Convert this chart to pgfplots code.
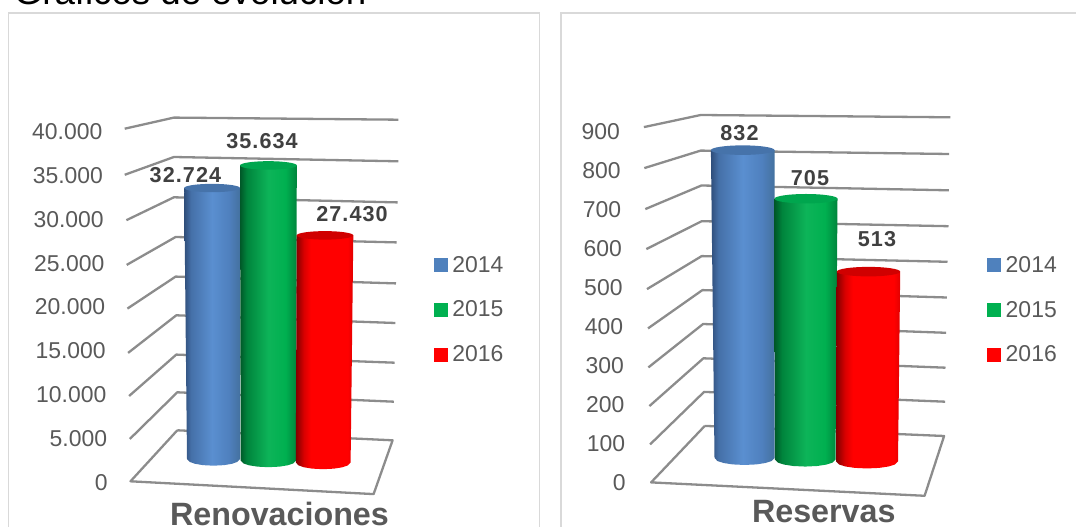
\documentclass[border=0pt]{standalone}
\usepackage{fontspec}
\setmainfont{Liberation Sans}
\newfontfamily\spaced[LetterSpace=5]{Liberation Sans}
\usepackage{pgfplots}
\usepackage{pgfplotstable}
\pgfplotsset{compat=1.18}
\def\px{0.75pt}

\definecolor{txt}{HTML}{595959}
\definecolor{lbl}{HTML}{404040}
\definecolor{gridc}{HTML}{8C8C8C}
\definecolor{framec}{HTML}{D9D9D9}
\definecolor{blue14}{HTML}{4F81BD}
\definecolor{green15}{HTML}{00B050}
\definecolor{red16}{HTML}{FF0000}
\definecolor{capblue}{HTML}{4673AA}
\definecolor{capgreen}{HTML}{00A64E}
\definecolor{capred}{HTML}{D00000}
\definecolor{blueA}{HTML}{2F4E7A}
\definecolor{blueB}{HTML}{4570A8}
\definecolor{blueC}{HTML}{5A8FD0}
\definecolor{blueD}{HTML}{4F80BE}
\definecolor{blueE}{HTML}{44719F}

\pgfdeclarehorizontalshading{cylblue}{100bp}{color(0bp)=(blueA);
  color(25bp)=(blueA); color(31bp)=(blueB); color(50bp)=(blueC); color(65bp)=(blueD); color(75bp)=(blueE); color(100bp)=(blueE)}
\pgfdeclarehorizontalshading{cylgreen}{100bp}{color(0bp)=(green15!50!black);
  color(25bp)=(green15!50!black); color(31bp)=(green15!75!black); color(50bp)=(green15!95!white); color(65bp)=(green15); color(75bp)=(green15!75!black); color(100bp)=(green15!75!black)}
\pgfdeclarehorizontalshading{cylred}{100bp}{color(0bp)=(red16!50!black);
  color(25bp)=(red16!50!black); color(32bp)=(red16!85!black); color(38bp)=(red16); color(70bp)=(red16); color(75bp)=(red16!88!black); color(100bp)=(red16!88!black)}

% ellipse used as the lid of a cylinder
\pgfdeclareplotmark{lid}{\pgfpathellipse{\pgfpointorigin}{\pgfqpoint{\pgfplotmarksize}{0pt}}{\pgfqpoint{0pt}{0.15\pgfplotmarksize}}\pgfusepathqfill}

% outline of a cylinder: top=1 is the lid level, d the depth of the bottom arc
\pgfplotstableread{
t top d
-1 1 0
-1 0 0
-0.9 0 0.436
-0.7 0 0.714
-0.4 0 0.917
0 0 1
0.4 0 0.917
0.7 0 0.714
0.9 0 0.436
1 0 0
1 1 0
}\outline
\pgfplotstableread{
a b
0 0
}\onepoint

% #1 shading #2 lid colour #3 centre top #4 half width top #5 centre bottom #6 half width bottom #7 base #8 value #9 arc depth
\newcommand\cyl[9]{
  \addplot[draw=none, shade, shading=#1, forget plot] table[
    x expr={(#3+#4*\thisrow{t})*\thisrow{top}+(#5+#6*\thisrow{t})*(1-\thisrow{top})},
    y expr={(#8+#7)*\thisrow{top}+(#7-#9*\thisrow{d})*(1-\thisrow{top})}] {\outline} -- cycle;
  \addplot[only marks, mark=lid, mark size={#4*\px}, color=#2, forget plot]
    table[x expr={#3}, y expr={#8+#7}] {\onepoint};
}

\pgfplotsset{
  canvas/.style={
    scale only axis, width=1076*\px, height=527*\px,
    at={(0,0)}, anchor=south west, xmin=0, xmax=1076,
    hide axis, clip=false},
  wall/.style={
    anchor=origin, xmin=0, xmax=10, x={(\px,0)},
    axis line style={draw=none}, xtick=\empty, major tick length=0pt,
    clip=false, ymin=0,
    /pgf/number format/.cd, assume math mode=true, /pgfplots/.cd,
    yticklabel style={anchor=east, inner sep=0pt, font=\fontsize{17.2pt}{20pt}\selectfont, text=txt}},
  bardata/.style={
    draw=none, mark=none, forget plot,
    visualization depends on={\thisrow{dy}\as\dy},
    nodes near coords={\pgfmathprintnumber{\pgfplotspointmeta}},
    point meta=explicit,
    every node near coord/.style={anchor=center, yshift=\dy*\px, text=lbl, inner sep=0pt,
      font=\fontsize{16.2pt}{18pt}\spaced\bfseries}},
  yearlegend/.style={
    legend style={at={#1}, anchor=north west, draw=none, fill=none, inner sep=0pt, outer sep=0pt,
      row sep=16.1pt, font=\fontsize{17.2pt}{20pt}\selectfont, text=txt,
      cells={anchor=west}},
    legend image code/.code={\fill[##1, draw=none] (0pt,-5.25pt) rectangle (10.5pt,5.25pt); \path (11.7pt,0pt);},
    legend cell align=left},
}

\begin{document}
\begin{tikzpicture}
\clip (0,0) rectangle (1076*\px,527*\px);

% frames, floors and grid lines, in pixels of the picture
\begin{axis}[canvas, ymin=0, ymax=527, y dir=reverse]
\addplot[framec, line width=1.7*\px] coordinates {(8.6,540) (8.6,12.8) (539.5,12.8) (539.5,540)};
\addplot[framec, line width=1.7*\px] coordinates {(560.8,540) (560.8,12.8) (1090,12.8)};
\foreach \a/\b/\c/\d/\e/\f in {
  124.7/128.7/173.9/117.6/398.4/119.7, 124.7/174.8/173.9/157.0/398.4/161.3,
  126.4/220.2/173.9/197.3/397.7/202.4, 126.7/264.9/175.6/237.0/396.7/242.4,
  127.4/308.6/175.6/276.6/396/283.4, 128.1/352.9/176.3/315.3/395.3/323,
  129.1/396/176.3/354.6/394.6/362.7, 129.8/439/177.3/392.3/393.9/401.7,
  643.9/127.1/700.7/115/950.3/117.3, 644.3/168.1/700.7/150.6/949.2/154,
  645.3/209.1/701.4/185.5/948.9/190.3, 646.3/249.1/701.7/221.2/948.5/226.2,
  647/289.1/701.7/256.1/947.5/261.8, 648/328.4/702.4/290.1/946.8/297.5,
  648.4/367.4/703.1/324/946.2/332.8, 649.4/406.1/703.4/358.3/945.5/367.7,
  650.1/444.4/704.1/391.9/945.1/401.7} {
  \edef\tmp{\noexpand\addplot[gridc, line width=2.3*\px, line join=round] coordinates {(\a,\b) (\c,\d) (\e,\f)};}
  \tmp
}
\addplot[gridc, line width=2.3*\px, line join=round] coordinates {(177.3,430.3) (130.5,481.3) (373.6,494.1) (392.6,440.3) (177.3,430.3)};
\addplot[gridc, line width=2.3*\px, line join=round] coordinates {(704.8,425.9) (651.1,482.4) (924.6,495.8) (944.1,436) (704.8,425.9)};
\node[anchor=base west, inner sep=0pt, font=\fontsize{27.5pt}{30pt}\selectfont] at (axis cs:13.5,4.5) {Gráficos de evolución};
\node[anchor=base, inner sep=0pt, font=\fontsize{24.2pt}{28pt}\selectfont\bfseries, text=txt] at (axis cs:279.5,526) {Renovaciones};
\node[anchor=base, inner sep=0pt, font=\fontsize{24.2pt}{28pt}\selectfont\bfseries, text=txt] at (axis cs:823.8,522.5) {Reservas};
\end{axis}

% value axes, leaning with the front edge of the wall
\begin{axis}[wall, at={(108*\px,44.3*\px)}, y={(-5.4*\px/40,351.3*\px/40)},
  ymax=40, ytick={0,5,...,40},
  yticklabels={0,5.000,10.000,15.000,20.000,25.000,30.000,35.000,40.000}]
\addplot[draw=none, forget plot] coordinates {(0,0)};
\end{axis}
\begin{axis}[wall, at={(626*\px,44*\px)}, y={(-5.8*\px/900,351.5*\px/900)},
  ymax=900, ytick={0,100,...,900}]
\addplot[draw=none, forget plot] coordinates {(0,0)};
\end{axis}

% Renovaciones
\begin{axis}[canvas, ymin=-8091.8, ymax=55555.6, yearlegend={(axis cs:433.9,24940)},
  /pgf/number format/.cd, 1000 sep={.}, assume math mode=true]
\cyl{cylblue}{capblue}{212.1}{27.9}{213.5}{26.5}{121}{32724}{809}
\cyl{cylgreen}{capgreen}{268.4}{28.4}{268.4}{27.7}{-60}{35634}{809}
\cyl{cylred}{capred}{325}{28.3}{323.2}{27.4}{-302}{27430}{809}
\addplot[bardata] table[meta=v] {
x y v dy
185.4 32845 32724 12.5
262 35574 35634 24.3
352 27128 27430 21.4
};
\addlegendimage{fill=blue14} \addlegendentry{2014}
\addlegendimage{fill=green15} \addlegendentry{2015}
\addlegendimage{fill=red16} \addlegendentry{2016}
\end{axis}

% Reservas
\begin{axis}[canvas, ymin=-181.1, ymax=1243.2, yearlegend={(axis cs:987.2,558)},
  /pgf/number format/.cd, 1000 sep={.}, assume math mode=true]
\cyl{cylblue}{capblue}{742.7}{31.8}{744.5}{30}{5.4}{832}{18.9}
\cyl{cylgreen}{capgreen}{806}{31.5}{805.2}{30.3}{1.1}{705}{18.9}
\cyl{cylred}{capred}{868.5}{31.7}{867}{31}{-4}{513}{18.9}
\addplot[bardata] table[meta=v] {
x y v dy
739.5 837.4 832 16.8
810 706.1 705 20.2
877 509 513 32.7
};
\addlegendimage{fill=blue14} \addlegendentry{2014}
\addlegendimage{fill=green15} \addlegendentry{2015}
\addlegendimage{fill=red16} \addlegendentry{2016}
\end{axis}
\end{tikzpicture}
\end{document}
